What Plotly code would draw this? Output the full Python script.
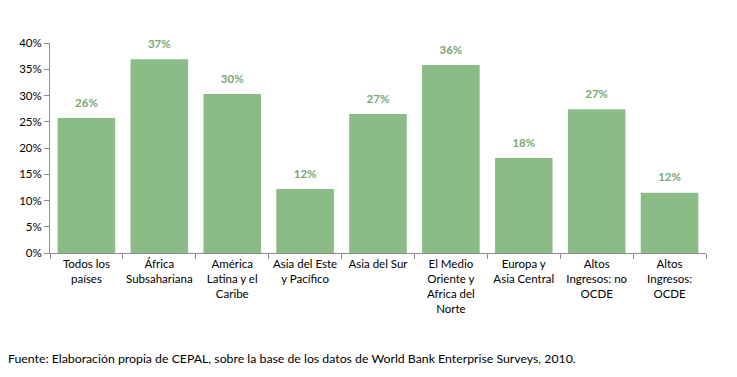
import plotly.graph_objects as go

categories = ["Todos los<br>países", "África<br>Subsahariana", "América<br>Latina y el<br>Caribe",
              "Asia del Este<br>y Pacífico", "Asia del Sur", "El Medio<br>Oriente y<br>Africa del<br>Norte",
              "Europa y<br>Asia Central", "Altos<br>Ingresos: no<br>OCDE", "Altos<br>Ingresos:<br>OCDE"]
values = [25.7, 36.9, 30.3, 12.2, 26.5, 35.8, 18.1, 27.4, 11.5]
labels = ["26%", "37%", "30%", "12%", "27%", "36%", "18%", "27%", "12%"]
yticks = [0, 5, 10, 15, 20, 25, 30, 35, 40]
source = "Fuente: Elaboración propia de CEPAL, sobre la base de los datos de World Bank Enterprise Surveys, 2010."

font = "Lato, 'Open Sans', sans-serif"

fig = go.Figure()
fig.add_trace(go.Bar(
    x=categories, y=values,
    marker=dict(color="#8BBB86", line=dict(width=0)),
))
fig.add_trace(go.Scatter(
    x=categories, y=values, text=labels, mode="markers+text", textposition="top center",
    marker=dict(size=12, opacity=0),
    textfont=dict(color="#77A96F", size=11.5, family=font, weight="bold"),
    cliponaxis=False, hoverinfo="skip",
))

fig.update_layout(
    width=737, height=377,
    margin=dict(l=42, r=39, t=35, b=132),
    paper_bgcolor="white", plot_bgcolor="white",
    bargap=0.21,
    showlegend=False,
    font=dict(family=font, size=11, color="#000000"),
)
fig.update_yaxes(
    range=[0, 40], tickvals=yticks, ticktext=[f"{v}%" for v in yticks],
    showgrid=False, showline=True, linecolor="#8C8C8C", linewidth=1,
    ticks="outside", ticklen=5, tickcolor="#8C8C8C", zeroline=False,
    tickfont=dict(size=11.5, family=font),
)
fig.update_xaxes(
    range=[-0.5, len(categories) - 0.5],
    showline=True, linecolor="#8C8C8C", linewidth=1,
    ticks="outside", ticklen=5, tickcolor="#8C8C8C", tickson="boundaries",
    tickfont=dict(size=11.5, family=font), tickangle=0,
)
fig.add_annotation(
    text=source, xref="paper", yref="paper", x=0, y=0, xanchor="left", yanchor="middle",
    xshift=-44, yshift=-105, showarrow=False, font=dict(size=12.3, family=font, color="#000000"),
)

fig.write_html("out.html")
